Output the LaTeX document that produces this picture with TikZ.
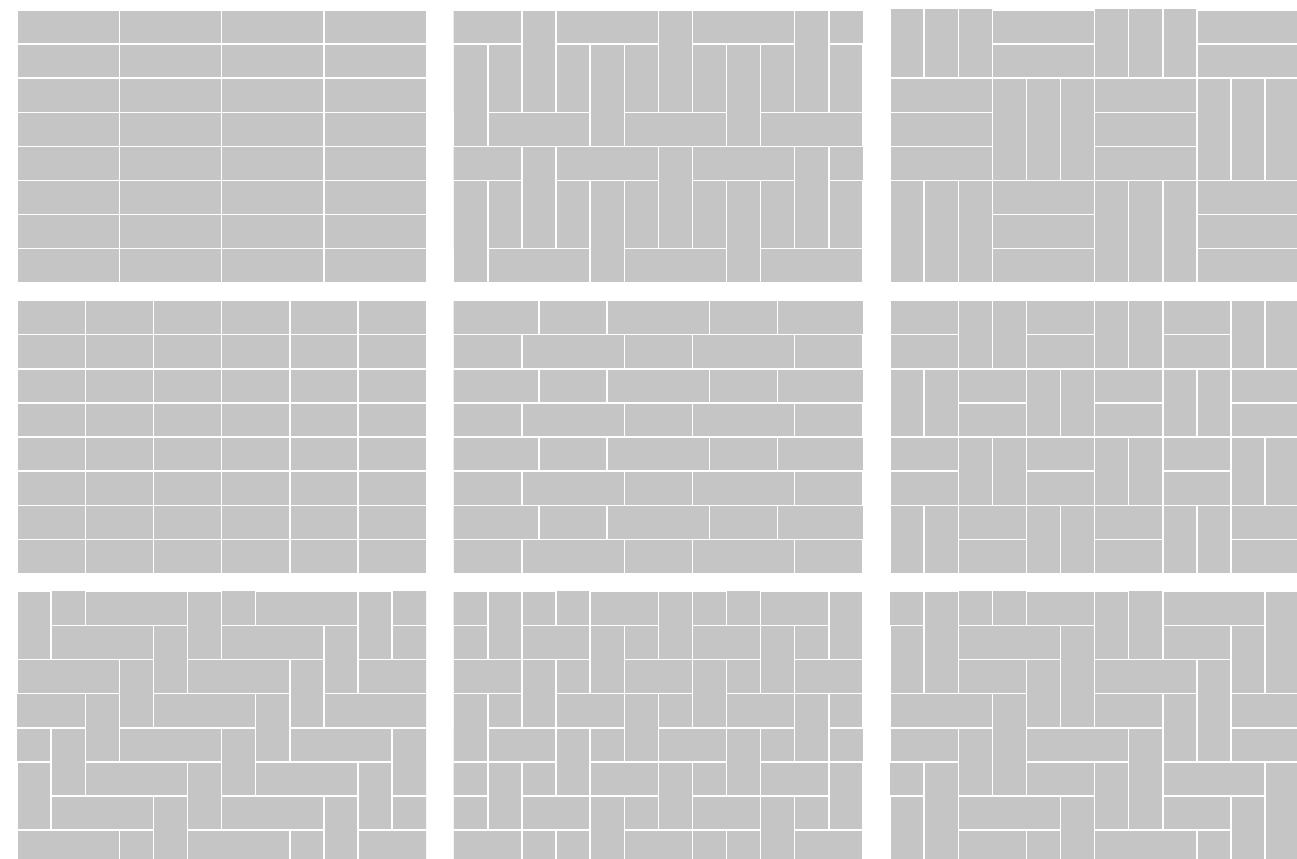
\documentclass[tikz,border=0pt]{standalone}
\usepackage{tikz}
\definecolor{tilefill}{RGB}{197,197,197}
\tikzset{
  tile/.style={fill=tilefill,draw=white,line width=0.4pt},
}
\begin{document}
\begin{tikzpicture}[x=0.341cm,y=-0.341cm]
  \useasboundingbox (0,0) rectangle (38.035,25.191);
  \begin{scope}[shift={(0.499,0.293)}]
  \clip (0,0) rectangle (12,8);
  \foreach \r in {0,...,7}
    \foreach \c in {0,3,6,9}
      \filldraw[tile] (\c,\r) rectangle ++(3,1);
  \end{scope}
  \begin{scope}[shift={(13.305,0.293)}]
  \clip (0,0) rectangle (12,8);
  \foreach \cy in {0,4}
    \foreach \cx in {-2,2,6,10} {
      \filldraw[tile] (\cx,\cy) rectangle ++(1,3);
      \filldraw[tile] ({\cx+1},\cy) rectangle ++(3,1);
      \filldraw[tile] ({\cx+1},{\cy+1}) rectangle ++(1,2);
      \filldraw[tile] ({\cx+2},{\cy+1}) rectangle ++(1,3);
      \filldraw[tile] ({\cx+3},{\cy+1}) rectangle ++(1,2);
      \filldraw[tile] ({\cx+3},{\cy+3}) rectangle ++(3,1);
    }
  \end{scope}
  \begin{scope}[shift={(26.1,0.293)}]
  \clip (0,0) rectangle (12,8);
  \foreach \bx in {0,...,3}
    \foreach \by in {0,1,2} {
      \pgfmathtruncatemacro\p{mod(\bx+\by,2)}
      \ifnum\p=0
        \foreach \i in {0,1,2}
          \filldraw[tile] ({3*\bx+\i},{3*\by-1}) rectangle ++(1,3);
      \else
        \foreach \i in {0,1,2}
          \filldraw[tile] ({3*\bx},{3*\by-1+\i}) rectangle ++(3,1);
      \fi
    }
  \end{scope}
  \begin{scope}[shift={(0.499,8.818)}]
  \clip (0,0) rectangle (12,8);
  \foreach \r in {0,...,7}
    \foreach \c in {0,2,...,10}
      \filldraw[tile] (\c,\r) rectangle ++(2,1);
  \end{scope}
  \begin{scope}[shift={(13.305,8.818)}]
  \clip (0,0) rectangle (12,8);
  \foreach \r/\o in {0/2.5,1/0,2/2.5,3/0,4/2.5,5/0,6/2.5,7/0}
    \foreach \k in {-1,...,2} {
      \filldraw[tile] ({\o+5*\k},\r) rectangle ++(2,1);
      \filldraw[tile] ({\o+2+5*\k},\r) rectangle ++(3,1);
    }
  \end{scope}
  \begin{scope}[shift={(26.1,8.818)}]
  \clip (0,0) rectangle (12,8);
  \foreach \bx in {0,...,5}
    \foreach \by in {0,...,3} {
      \pgfmathtruncatemacro\p{mod(\bx+\by,2)}
      \ifnum\p=0
        \filldraw[tile] ({2*\bx},{2*\by}) rectangle ++(2,1);
        \filldraw[tile] ({2*\bx},{2*\by+1}) rectangle ++(2,1);
      \else
        \filldraw[tile] ({2*\bx},{2*\by}) rectangle ++(1,2);
        \filldraw[tile] ({2*\bx+1},{2*\by}) rectangle ++(1,2);
      \fi
    }
  \end{scope}
  \begin{scope}[shift={(0.499,17.346)}]
  \clip (0,0) rectangle (12,8);
  \foreach \r in {-1,...,7} {
    \pgfmathtruncatemacro\s{mod(52-\r,5)}
    \foreach \k in {-1,...,2} {
      \filldraw[tile] ({\s+5*\k},\r) rectangle ++(3,1);
      \filldraw[tile] ({\s+3+5*\k},\r) rectangle ++(1,2);
    }
  }
  \end{scope}
  \begin{scope}[shift={(13.305,17.346)}]
  \clip (0,0) rectangle (12,8);
  \foreach \r in {-1,...,7} {
    \pgfmathtruncatemacro\s{mod(54-2*\r,5)}
    \foreach \k in {-1,...,2} {
      \filldraw[tile] ({\s+5*\k},\r) rectangle ++(2,1);
      \filldraw[tile] ({\s+2+5*\k},\r) rectangle ++(1,2);
      \filldraw[tile] ({\s+3+5*\k},\r) rectangle ++(1,1);
    }
  }
  \end{scope}
  \begin{scope}[shift={(26.1,17.346)}]
  \clip (0,0) rectangle (12,8);
  \foreach \r in {-2,...,7} {
    \pgfmathtruncatemacro\a{mod(104+4*\r,10)}
    \foreach \k in {-1,...,1} {
      \filldraw[tile] ({\a+10*\k},\r) rectangle ++(2,1);
      \filldraw[tile] ({\a+2+10*\k},\r) rectangle ++(1,2);
      \filldraw[tile] ({\a+4+10*\k},\r) rectangle ++(3,1);
      \filldraw[tile] ({\a+7+10*\k},\r) rectangle ++(1,3);
    }
  }
  \end{scope}
\end{tikzpicture}
\end{document}
